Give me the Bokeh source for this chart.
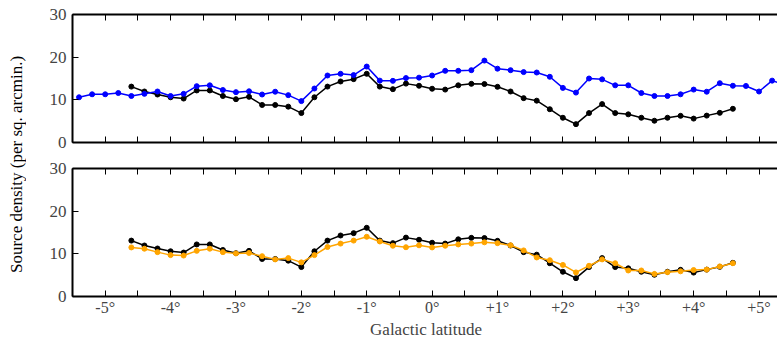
from bokeh.plotting import figure
from bokeh.models import FixedTicker, LinearAxis, Range1d, Div
from bokeh.layouts import row, column
from bokeh.embed import file_html
from bokeh.resources import INLINE

# ---- data ----
lat_wide = [-5.4, -5.2, -5.0, -4.8, -4.6, -4.4, -4.2, -4.0, -3.8, -3.6, -3.4, -3.2, -3.0, -2.8,
            -2.6, -2.4, -2.2, -2.0, -1.8, -1.6, -1.4, -1.2, -1.0, -0.8, -0.6, -0.4, -0.2, 0.0,
            0.2, 0.4, 0.6, 0.8, 1.0, 1.2, 1.4, 1.6, 1.8, 2.0, 2.2, 2.4, 2.6, 2.8, 3.0, 3.2,
            3.4, 3.6, 3.8, 4.0, 4.2, 4.4, 4.6, 4.8, 5.0, 5.2, 5.4]
blue_density = [10.6, 11.3, 11.3, 11.6, 10.9, 11.4, 11.95, 10.9, 11.4, 13.2, 13.4, 12.3, 11.8, 12.0,
                11.25, 11.9, 11.1, 9.7, 12.65, 15.7, 16.1, 15.8, 17.8, 14.5, 14.45, 15.1, 15.2, 15.7,
                16.8, 16.8, 16.95, 19.2, 17.3, 16.95, 16.5, 16.4, 15.4, 12.8, 11.7, 15.0, 14.8, 13.4,
                13.4, 11.6, 10.9, 10.9, 11.3, 12.4, 11.9, 13.9, 13.3, 13.25, 11.95, 14.5, 13.5]

lat_narrow = [-4.6, -4.4, -4.2, -4.0, -3.8, -3.6, -3.4, -3.2, -3.0, -2.8, -2.6, -2.4, -2.2, -2.0,
              -1.8, -1.6, -1.4, -1.2, -1.0, -0.8, -0.6, -0.4, -0.2, 0.0, 0.2, 0.4, 0.6, 0.8,
              1.0, 1.2, 1.4, 1.6, 1.8, 2.0, 2.2, 2.4, 2.6, 2.8, 3.0, 3.2, 3.4, 3.6, 3.8, 4.0,
              4.2, 4.4, 4.6]
black_density = [13.1, 11.95, 11.25, 10.6, 10.3, 12.2, 12.2, 10.9, 10.15, 10.7, 8.8, 8.8, 8.4, 6.9,
                 10.6, 13.1, 14.3, 14.85, 16.1, 13.1, 12.5, 13.8, 13.3, 12.6, 12.4, 13.4, 13.75, 13.7,
                 13.05, 11.95, 10.4, 9.8, 7.8, 5.8, 4.3, 6.9, 9.0, 6.9, 6.6, 5.8, 5.1, 5.8, 6.25, 5.6,
                 6.3, 6.95, 7.9]
orange_density = [11.5, 11.2, 10.4, 9.7, 9.6, 10.7, 11.2, 10.4, 10.1, 10.2, 9.45, 8.7, 9.0, 8.0,
                  9.7, 11.6, 12.4, 13.1, 14.0, 12.9, 11.9, 11.55, 12.0, 11.5, 11.9, 12.2, 12.4, 12.7,
                  12.5, 12.0, 10.8, 9.15, 8.5, 7.4, 5.65, 7.2, 8.7, 7.8, 6.1, 6.1, 5.3, 5.7, 5.9, 6.2,
                  6.3, 7.05, 7.8]

x_ticks = [-5, -4, -3, -2, -1, 0, 1, 2, 3, 4, 5]
x_tick_labels = ["-5°", "-4°", "-3°", "-2°", "-1°", "0°", "+1°", "+2°", "+3°", "+4°", "+5°"]
x_minor = [-5.5, -4.5, -3.5, -2.5, -1.5, -0.5, 0.5, 1.5, 2.5, 3.5, 4.5, 5.5]
y_ticks = [0, 10, 20, 30]

FONT = "Liberation Serif"
BLUE = "#0000ff"
BLACK = "#000000"
ORANGE = "#ffa500"


def style_x_axis(ax, labels):
    if labels:
        ax.ticker = FixedTicker(ticks=x_ticks, minor_ticks=x_minor)
        ax.major_label_overrides = {t: l for t, l in zip(x_ticks, x_tick_labels)}
        ax.major_label_text_font = FONT
        ax.major_label_text_font_size = "16px"
        ax.major_label_standoff = 2
    else:
        # tick marks only, no labels
        ax.ticker = FixedTicker(ticks=[], minor_ticks=x_ticks + x_minor)
    ax.axis_line_width = 2
    ax.major_tick_in = 6
    ax.major_tick_out = 0
    ax.minor_tick_in = 6
    ax.minor_tick_out = 0
    ax.major_tick_line_width = 1
    ax.minor_tick_line_width = 1


def make_fig(height, top_border, bottom_border, show_xlabels):
    p = figure(width=747, height=height, x_range=Range1d(-5.5, 5.313), y_range=Range1d(0, 30),
               output_backend="svg", toolbar_location=None, x_axis_location=None,
               min_border_left=40, min_border_right=0,
               min_border_top=top_border, min_border_bottom=bottom_border)
    p.outline_line_color = None
    p.xgrid.visible = False
    p.ygrid.visible = False
    bottom_ax = LinearAxis()
    style_x_axis(bottom_ax, show_xlabels)
    p.add_layout(bottom_ax, "below")
    top_ax = LinearAxis()
    style_x_axis(top_ax, False)
    p.add_layout(top_ax, "above")
    ya = p.yaxis[0]
    ya.ticker = FixedTicker(ticks=y_ticks, minor_ticks=[])
    ya.axis_line_width = 2
    ya.major_tick_in = 6
    ya.major_tick_out = 0
    ya.minor_tick_in = 0
    ya.minor_tick_out = 0
    ya.major_label_text_font = FONT
    ya.major_label_text_font_size = "17px"
    ya.major_label_standoff = 6
    return p, bottom_ax


p1, _ = make_fig(155, 14, 13, False)
p1.line(lat_narrow, black_density, line_color=BLACK, line_width=1.5)
p1.scatter(lat_narrow, black_density, size=5, color=BLACK)
p1.line(lat_wide, blue_density, line_color=BLUE, line_width=1.5)
p1.scatter(lat_wide, blue_density, size=5, color=BLUE)

p2, xb = make_fig(186, 13, 44, True)
xb.axis_label = "Galactic latitude"
xb.axis_label_text_font = FONT
xb.axis_label_text_font_size = "17px"
xb.axis_label_text_font_style = "normal"
xb.axis_label_standoff = 1
p2.line(lat_narrow, black_density, line_color=BLACK, line_width=1.5)
p2.scatter(lat_narrow, black_density, size=5, color=BLACK)
p2.line(lat_narrow, orange_density, line_color=ORANGE, line_width=1.5)
p2.scatter(lat_narrow, orange_density, size=5, color=ORANGE)

ylabel = Div(
    text=('<div style="writing-mode: vertical-rl; transform: rotate(180deg); height: 283px; '
          'margin-top: 18px; text-align: center; font-family: \'Liberation Serif\'; '
          'font-size: 17px; line-height: 24px; white-space: nowrap; color: #000;">'
          'Source density (per sq. arcmin.)</div>'),
    width=22, height=341)

layout = row(ylabel, column(p1, p2))

open("out.html", "w").write(file_html(layout, INLINE))
